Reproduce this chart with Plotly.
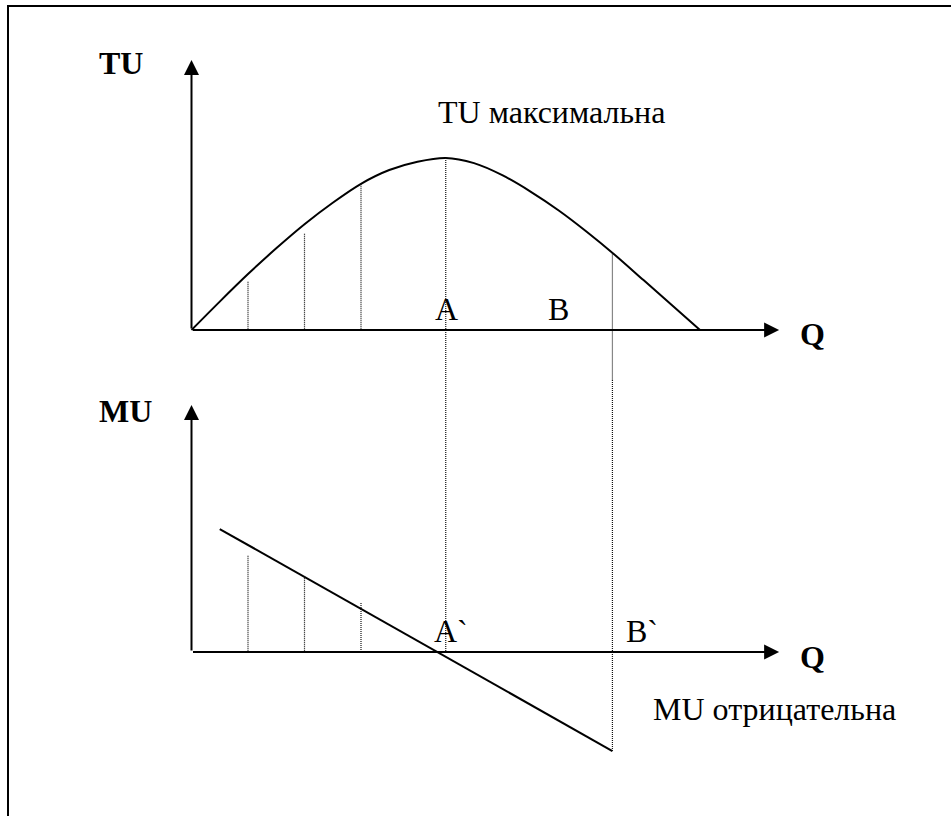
import plotly.graph_objects as go

# Общая полезность (TU) и предельная полезность (MU) от количества Q
q_tu = [0, 0.5, 1, 1.5, 2, 2.5, 3, 3.5, 4, 4.5, 5, 5.5, 6, 6.5, 7, 7.5, 8, 8.5, 9]
tu = [0, 1.65, 3.25, 4.75, 6.15, 7.4, 8.5, 9.3, 9.78, 10, 9.7, 9.0, 8.05, 6.95, 5.7, 4.35, 2.9, 1.45, 0]

q_mu = [0.5, 7.45]
mu = [7.15, -5.76]

# вертикальные пунктиры
q_marks = [1, 2, 3]
tu_marks = [2.8, 5.6, 8.5]
mu_marks = [5.6, 4.4, 2.85]
q_a, tu_a, mu_a = 4.5, 10, 0
q_b, tu_b, mu_b = 7.45, 4.45, -5.76

# концы осей
q_axis_end = 10.4
tu_axis_end = 15.7
mu_axis_end = 14.36

W, H = 951, 816
X0, KX = 191.5, 56.5      # пиксель начала Q и пикселей на единицу
TU_BASE, MU_BASE, KY = 330, 652, 17.2
SPLIT = 380               # граница между двумя графиками, px

x_rng = [-X0 / KX, (W - X0) / KX]
y1_rng = [(TU_BASE - SPLIT) / KY, TU_BASE / KY]
y2_rng = [(MU_BASE - H) / KY, (MU_BASE - SPLIT) / KY]
split_frac = 1 - SPLIT / H

FONT = 'Liberation Serif'
blk = 'black'
dot = dict(color='#111', width=1.2, dash='1px,1px')

fig = go.Figure()

# TU кривая
fig.add_trace(go.Scatter(x=q_tu, y=tu, mode='lines',
                         line=dict(color=blk, width=2, shape='spline', smoothing=0.8),
                         xaxis='x', yaxis='y'))
# MU прямая
fig.add_trace(go.Scatter(x=q_mu, y=mu, mode='lines', line=dict(color=blk, width=2),
                         xaxis='x2', yaxis='y2'))

# пунктиры
for q, t, m in zip(q_marks, tu_marks, mu_marks):
    fig.add_trace(go.Scatter(x=[q, q], y=[t, 0], mode='lines', line=dot, xaxis='x', yaxis='y'))
    fig.add_trace(go.Scatter(x=[q, q], y=[m, 0], mode='lines', line=dot, xaxis='x2', yaxis='y2'))
for q, t, m in [(q_a, tu_a, mu_a), (q_b, tu_b, mu_b)]:
    fig.add_trace(go.Scatter(x=[q, q], y=[t, y1_rng[0]], mode='lines', line=dot, xaxis='x', yaxis='y'))
    fig.add_trace(go.Scatter(x=[q, q], y=[y2_rng[1], m], mode='lines', line=dot, xaxis='x2', yaxis='y2'))

ax_opts = dict(visible=False, showgrid=False, zeroline=False, fixedrange=True)
fig.update_layout(
    width=W, height=H,
    margin=dict(l=0, r=0, t=0, b=0),
    paper_bgcolor='white', plot_bgcolor='white',
    showlegend=False,
    xaxis=dict(range=x_rng, domain=[0, 1], anchor='y', **ax_opts),
    yaxis=dict(range=y1_rng, domain=[split_frac, 1], anchor='x', **ax_opts),
    xaxis2=dict(range=x_rng, domain=[0, 1], anchor='y2', **ax_opts),
    yaxis2=dict(range=y2_rng, domain=[0, split_frac], anchor='x2', **ax_opts),
    font=dict(family=FONT, size=32, color=blk),
)

# оси со стрелками
arrow = dict(text='', showarrow=True, arrowhead=2, arrowsize=1.5, arrowwidth=2, arrowcolor=blk)
for xr, yr, y_end in [('x', 'y', tu_axis_end), ('x2', 'y2', mu_axis_end)]:
    fig.add_annotation(x=0, y=y_end, ax=0, ay=0, xref=xr, yref=yr, axref=xr, ayref=yr, **arrow)
    fig.add_annotation(x=q_axis_end, y=0, ax=0, ay=0, xref=xr, yref=yr, axref=xr, ayref=yr, **arrow)

# подписи
labels = [
    ('x', 'y', -1.25, 15.52, '<b>TU</b>'),
    ('x', 'y', 6.37, 12.65, 'TU максимальна'),
    ('x', 'y', 4.52, 1.22, 'A'),
    ('x', 'y', 6.49, 1.22, 'B'),
    ('x', 'y', 10.99, -0.26, '<b>Q</b>'),
    ('x2', 'y2', -1.16, 14.01, '<b>MU</b>'),
    ('x2', 'y2', 4.6, 1.25, 'A`'),
    ('x2', 'y2', 7.98, 1.25, 'B`'),
    ('x2', 'y2', 10.99, -0.29, '<b>Q</b>'),
    ('x2', 'y2', 10.31, -3.31, 'MU отрицательна'),
]
for xr, yr, x, y, txt in labels:
    fig.add_annotation(x=x, y=y, xref=xr, yref=yr, text=txt, showarrow=False,
                       xanchor='center', yanchor='middle', font=dict(family=FONT, size=32))

# рамка (правая и нижняя стороны за пределами кадра)
fig.add_shape(type='rect', xref='paper', yref='paper',
              x0=8 / W, x1=1.02, y0=-0.05, y1=1 - 6 / H,
              line=dict(color=blk, width=2), layer='above')

fig.write_html('out.html', config={'displayModeBar': False},
               post_script="document.body.style.margin='0';document.body.style.overflow='hidden';")
